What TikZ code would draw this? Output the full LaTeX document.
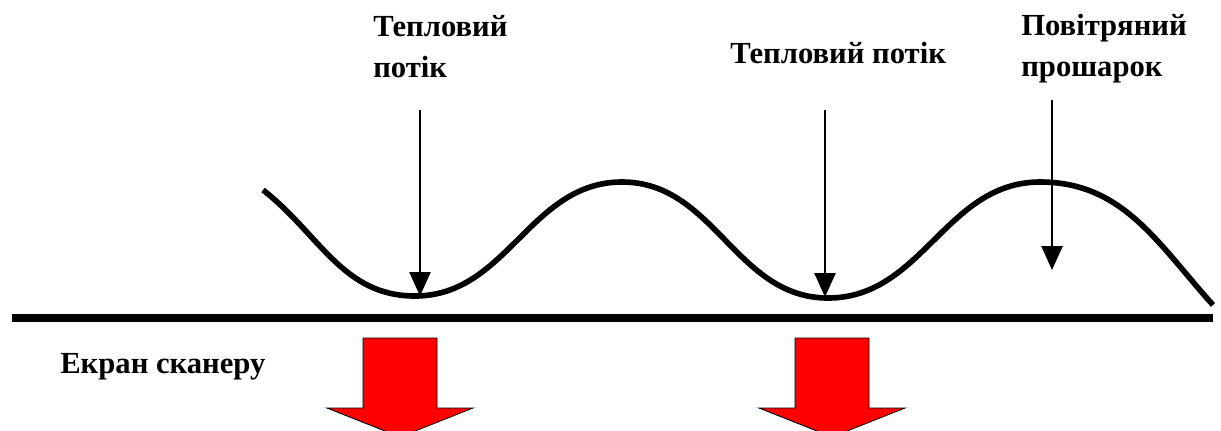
\documentclass[tikz,border=0pt]{standalone}
\usepackage{fontspec}
\setmainfont{Liberation Serif}
\usetikzlibrary{arrows.meta}

\begin{document}
\begin{tikzpicture}[x=0.025cm,y=-0.025cm,
  lbl/.style={font=\bfseries\fontsize{21.8}{29}\selectfont,inner sep=0pt,align=left},
  flux/.style={line width=1.4pt,-{Triangle[width=15pt,length=17pt]}},
  hotarrow/.style={fill=red,draw=black,line width=0.6pt,line join=miter}]
\useasboundingbox (0,0) rectangle (1221,430);
\node[lbl,anchor=north west] (lt) at (373,15) {Тепловий\\потік};
\node[lbl,anchor=north west] (rt) at (730,42) {Тепловий потік};
\node[lbl,anchor=north west] (air) at (1021,14) {Повітряний\\прошарок};
\node[lbl,anchor=west] (scr) at (60,367) {Екран сканеру};
\coordinate (u1) at (420,110); \coordinate (d1) at (420,296);
\coordinate (u2) at (825,110); \coordinate (d2) at (825,297);
\coordinate (u3) at (1052,100); \coordinate (d3) at (1052,270);
\draw[line width=5.7pt] (12,318)--(1213,318);
\draw[line width=4pt] (263,190) to[out=-38,in=180] (415,296) to[out=0,in=180] (622,182)
  to[out=0,in=180] (828,298) to[out=0,in=180] (1040,182) to[out=0,in=132] (1213,305);
\draw[flux] (u1)--(d1);
\draw[flux] (u2)--(d2);
\draw[flux] (u3)--(d3);
\foreach \c in {400,832}
  \draw[hotarrow] (\c-37,338)--(\c+37,338)--(\c+37,408)--(\c+73,408)--(\c,437)
    --(\c-73,408)--(\c-37,408)--cycle;
\end{tikzpicture}
\end{document}
